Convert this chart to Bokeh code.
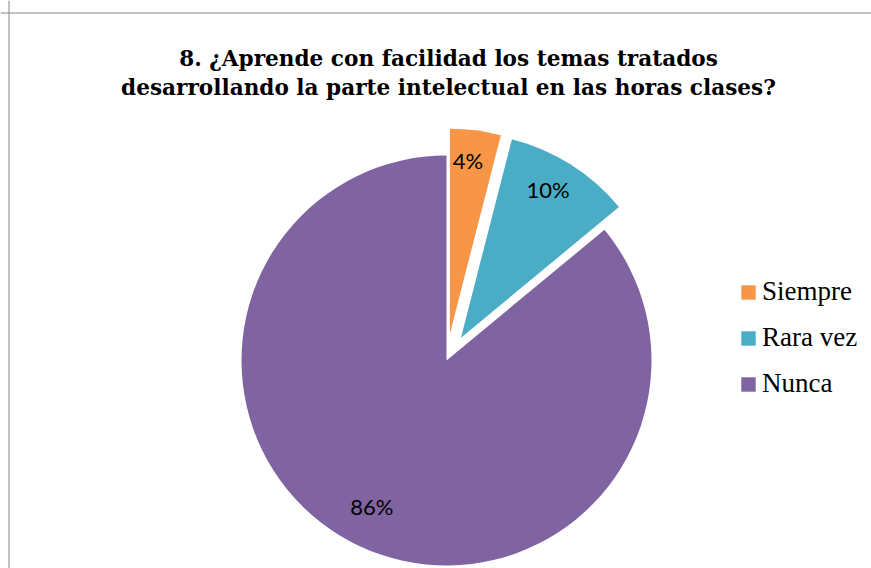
import math
from bokeh.plotting import figure
from bokeh.models import ColumnDataSource, Range1d, Legend, LegendItem, Span
from bokeh.core.properties import value
from bokeh.embed import file_html
from bokeh.resources import INLINE

# ---- data ----
categories = ["Siempre", "Rara vez", "Nunca"]
percents = [4, 10, 86]
labels = ["4%", "10%", "86%"]
colors = ["#F79646", "#4BACC6", "#8064A2"]
explode = [27, 27, 0]          # px offset of exploded slices
title_lines = ["8. ¿Aprende con facilidad los temas tratados",
               "desarrollando la parte intelectual en las horas clases?"]

# ---- layout (page pixel coords; y data = 568 - page_y) ----
W, H = 871, 568
def Y(py):
    return H - py

cx, cy, R = 446, Y(360), 205
label_frac = 0.82

p = figure(width=W, height=H, output_backend="svg", toolbar_location=None,
           x_range=Range1d(0, W), y_range=Range1d(0, H),
           min_border=0, min_border_left=0, min_border_right=0,
           min_border_top=0, min_border_bottom=0)
p.axis.visible = False
p.grid.visible = False
p.outline_line_color = None
p.background_fill_color = "white"

# frame lines (top and left)
p.add_layout(Span(location=Y(12.5), dimension="width", line_color="#878787", line_width=1))
p.add_layout(Span(location=8.5, dimension="height", line_color="#878787", line_width=1))

total = sum(percents)
start_deg = 0.0
xs, ys, sa, ea, lx, ly = [], [], [], [], [], []
for v, d in zip(percents, explode):
    a0 = start_deg
    a1 = start_deg + 360.0 * v / total
    mid = math.radians((a0 + a1) / 2)
    ox = cx + d * math.sin(mid)
    oy = cy + d * math.cos(mid)
    xs.append(ox); ys.append(oy)
    sa.append(math.radians(90 - a1)); ea.append(math.radians(90 - a0))
    lx.append(ox + label_frac * R * math.sin(mid))
    ly.append(oy + label_frac * R * math.cos(mid))
    start_deg = a1

src = ColumnDataSource(dict(x=xs, y=ys, start=sa, end=ea, color=colors,
                            cat=categories, lx=lx, ly=ly, lab=labels))

renderers = []
for i in range(len(categories)):
    r = p.wedge(x=xs[i], y=ys[i], radius=R, start_angle=sa[i], end_angle=ea[i],
                fill_color=colors[i], line_color=None)
    renderers.append(r)

p.text(x="lx", y="ly", text="lab", source=src, text_font=value("Lato"),
       text_font_size="22px", text_align="center", text_baseline="middle",
       text_color="black", y_offset=-6, x_offset=-3)

# title
p.text(x=[448, 448], y=[Y(58), Y(87)], text=title_lines,
       text_font=value("DejaVu Serif"), text_font_style="bold",
       text_font_size="21.6px", text_align="center", text_baseline="alphabetic",
       text_color="black")

legend = Legend(items=[LegendItem(label=c, renderers=[r]) for c, r in zip(categories, renderers)],
                location=(739, Y(399)), orientation="vertical",
                glyph_width=18, glyph_height=18, label_height=14,
                spacing=15, padding=0, margin=0, label_standoff=5,
                border_line_color=None, background_fill_alpha=0,
                label_text_font="Liberation Serif", label_text_font_size="27px",
                label_text_color="black")
p.add_layout(legend)

open("out.html", "w").write(file_html(p, INLINE))
